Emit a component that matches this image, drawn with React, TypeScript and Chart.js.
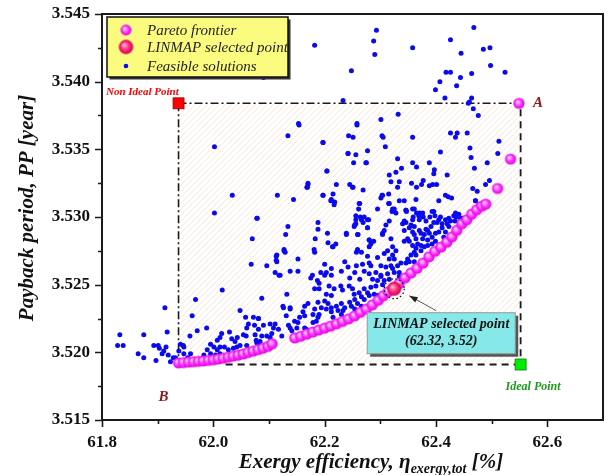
import React, { useEffect, useRef } from "react";
import { Chart, registerables } from "chart.js";

Chart.register(...registerables);

const FONT = "'Liberation Serif', 'Times New Roman', serif";

const xTicks = [61.8, 62.0, 62.2, 62.4, 62.6];
const yTicks = [3.515, 3.52, 3.525, 3.53, 3.535, 3.54, 3.545];
const xRange = [61.8, 62.7];
const yRange = [3.515, 3.545];

const seriesLabels = ["Pareto frontier", "LINMAP selected point", "Feasible solutions"];

const nonIdealPoint: [number, number] = [61.9375, 3.5384];
const idealPoint: [number, number] = [62.552, 3.5191];
const idealLineStartX = 62.018;
const linmapPoint: [number, number] = [62.325, 3.5247];
const linmapText = ["LINMAP selected point", "(62.32, 3.52)"];

const paretoPoints: [number, number][] = [
  [61.9375, 3.51922], [61.9464, 3.51924], [61.9554, 3.51928], [61.9643, 3.51931], [61.9732, 3.51934],
  [61.9821, 3.51936], [61.9911, 3.51941], [62.0, 3.51945], [62.0089, 3.51951], [62.0179, 3.51957],
  [62.0268, 3.51965], [62.0357, 3.51972], [62.0446, 3.51979], [62.0536, 3.51988], [62.0625, 3.51999],
  [62.0714, 3.52009], [62.0804, 3.5202], [62.0893, 3.52031], [62.0982, 3.52044], [62.1054, 3.52063],
  [62.1464, 3.52106], [62.1571, 3.52119], [62.1679, 3.52135], [62.1786, 3.5215], [62.1893, 3.52165],
  [62.2, 3.52179], [62.2107, 3.52194], [62.2214, 3.52211], [62.2321, 3.52229], [62.2429, 3.52247],
  [62.2536, 3.52269], [62.2643, 3.52296], [62.275, 3.5232], [62.2857, 3.52351], [62.2964, 3.52385],
  [62.3054, 3.52418], [62.3143, 3.52448], [62.325, 3.52477], [62.3339, 3.52508], [62.3446, 3.52551],
  [62.3554, 3.52587], [62.3661, 3.52621], [62.3768, 3.5266], [62.3875, 3.52706], [62.3982, 3.52746],
  [62.4089, 3.52778], [62.4196, 3.52814], [62.4286, 3.52854], [62.4375, 3.52902], [62.4464, 3.5295],
  [62.4554, 3.5298], [62.4643, 3.53021], [62.4732, 3.53054], [62.4821, 3.5308], [62.4893, 3.53095],
  [62.5107, 3.53211], [62.5339, 3.53428], [62.549, 3.5384],
];

const feasiblePoints: [number, number][] = [
  [62.293, 3.5438], [62.182, 3.5427], [62.288, 3.543], [62.29, 3.542], [62.358, 3.5425], [62.248, 3.5408],
  [62.09, 3.5403], [62.468, 3.544], [62.426, 3.5431], [62.445, 3.5421], [62.485, 3.5424], [62.497, 3.5425],
  [62.498, 3.5412], [62.524, 3.5407], [62.418, 3.5407], [62.426, 3.5407], [62.444, 3.5403], [62.464, 3.5406],
  [62.407, 3.54], [62.437, 3.5397], [62.399, 3.5394], [62.416, 3.5388], [62.464, 3.5388], [62.46, 3.5385],
  [62.458, 3.5384], [62.233, 3.5386], [62.467, 3.538], [62.476, 3.5375], [62.332, 3.5376], [62.301, 3.5372],
  [62.258, 3.5369], [62.153, 3.5369],
  [62.243, 3.536], [62.251, 3.5359], [62.305, 3.5359], [62.358, 3.5359], [62.197, 3.5355], [62.309, 3.5352],
  [62.277, 3.5349], [62.242, 3.5347], [62.256, 3.5346], [62.252, 3.534], [62.274, 3.534], [62.331, 3.5343],
  [62.358, 3.534], [62.365, 3.5337], [62.338, 3.5336], [62.388, 3.534], [62.397, 3.5335], [62.396, 3.5332],
  [62.204, 3.5334], [62.42, 3.5331], [62.426, 3.5362], [62.435, 3.5359], [62.438, 3.5362], [62.456, 3.5362],
  [62.408, 3.5348], [62.461, 3.5351], [62.463, 3.5344], [62.469, 3.5336], [62.492, 3.534], [62.513, 3.5356],
  [62.511, 3.5347], [62.496, 3.5327], [62.489, 3.5324], [62.466, 3.5321], [62.474, 3.5319], [62.221, 3.5324],
  [62.245, 3.5324], [62.251, 3.5322], [62.269, 3.532], [62.17, 3.5325], [62.168, 3.5322], [62.316, 3.5331],
  [62.328, 3.5333], [62.319, 3.5326], [62.334, 3.5326], [62.331, 3.5322], [62.356, 3.5325], [62.365, 3.5322],
  [62.377, 3.5327], [62.374, 3.5324], [62.388, 3.5323], [62.394, 3.5324], [62.401, 3.5324], [62.197, 3.5316],
  [62.215, 3.5317], [62.218, 3.5311], [62.212, 3.5313], [62.315, 3.5317], [62.301, 3.5314], [62.304, 3.5316],
  [62.334, 3.5312], [62.343, 3.5312], [62.364, 3.5313], [62.417, 3.5316], [62.422, 3.5315], [62.428, 3.5314],
  [62.405, 3.5312], [62.262, 3.531], [62.261, 3.5306], [62.295, 3.5306], [62.315, 3.531], [62.321, 3.5304],
  [62.328, 3.5303], [62.256, 3.5301], [62.271, 3.53], [62.277, 3.5298], [62.266, 3.5298], [62.256, 3.5295],
  [62.253, 3.5293], [62.239, 3.5288], [62.26, 3.5287], [62.277, 3.5292], [62.28, 3.5283], [62.304, 3.5288],
  [62.319, 3.5284], [62.346, 3.5305], [62.361, 3.5306], [62.365, 3.5303], [62.359, 3.53], [62.369, 3.5301],
  [62.377, 3.53], [62.396, 3.5304], [62.398, 3.5301], [62.346, 3.5296], [62.355, 3.5294], [62.361, 3.5293],
  [62.37, 3.529], [62.382, 3.5291], [62.391, 3.5293], [62.396, 3.5296], [62.402, 3.5296], [62.405, 3.5298],
  [62.417, 3.5298], [62.423, 3.5299], [62.432, 3.5301], [62.435, 3.5303], [62.441, 3.5302], [62.447, 3.5299],
  [62.471, 3.5312], [62.477, 3.5309], [62.316, 3.531], [62.322, 3.5306],
  [62.325, 3.5306], [62.347, 3.5304], [62.358, 3.5306], [62.37, 3.5303], [62.376, 3.5303], [62.393, 3.5304],
  [62.389, 3.53], [62.408, 3.53], [62.426, 3.5297], [62.436, 3.53], [62.444, 3.5299], [62.434, 3.5297],
  [62.42, 3.5295], [62.411, 3.5295], [62.382, 3.5297], [62.37, 3.5298], [62.358, 3.5298], [62.343, 3.5297],
  [62.34, 3.5295], [62.316, 3.5297], [62.31, 3.5294], [62.307, 3.529], [62.343, 3.529], [62.352, 3.5292],
  [62.358, 3.5289], [62.361, 3.5287], [62.373, 3.5288], [62.379, 3.5287], [62.385, 3.529], [62.388, 3.5288],
  [62.393, 3.5285], [62.399, 3.5288], [62.405, 3.5289], [62.411, 3.5292], [62.417, 3.5289], [62.423, 3.5293],
  [62.414, 3.5285], [62.385, 3.5283], [62.376, 3.5284], [62.364, 3.5284], [62.349, 3.5284], [62.343, 3.5282],
  [62.352, 3.5282], [62.358, 3.5279], [62.367, 3.528], [62.373, 3.5279], [62.379, 3.5278], [62.385, 3.5279],
  [62.393, 3.528], [62.399, 3.5282], [62.364, 3.5277], [62.373, 3.5275], [62.361, 3.5274], [62.355, 3.5272],
  [62.364, 3.5272], [62.349, 3.5269], [62.322, 3.5278], [62.328, 3.5275], [62.322, 3.5272], [62.316, 3.5269],
  [62.325, 3.5269], [62.313, 3.5275], [62.307, 3.5273], [62.301, 3.5264], [62.31, 3.5263], [62.319, 3.5264],
  [62.322, 3.5262], [62.331, 3.5264], [62.337, 3.5266], [62.346, 3.5266], [62.352, 3.5267], [62.361, 3.5267],
  [62.334, 3.5259], [62.325, 3.5259], [62.313, 3.5258], [62.316, 3.5254], [62.307, 3.5253], [62.301, 3.5256],
  [62.334, 3.5256], [62.304, 3.525],
  [62.114, 3.5272], [62.129, 3.5274], [62.182, 3.5274], [62.215, 3.5278], [62.257, 3.5274], [62.266, 3.5274],
  [62.28, 3.5278], [62.277, 3.5271], [62.295, 3.527], [62.152, 3.5269], [62.114, 3.5267], [62.096, 3.5264],
  [62.2, 3.5265], [62.236, 3.5267], [62.242, 3.5263], [62.257, 3.5264], [62.268, 3.5265], [62.28, 3.5266],
  [62.283, 3.5264], [62.212, 3.5262], [62.203, 3.5259], [62.23, 3.526], [62.254, 3.5259], [62.271, 3.526],
  [62.28, 3.5258], [62.292, 3.5259], [62.301, 3.5257], [62.138, 3.526], [62.152, 3.526], [62.111, 3.5259],
  [62.12, 3.5257], [62.175, 3.5255], [62.178, 3.5257], [62.193, 3.5259], [62.2, 3.5257], [62.212, 3.5257],
  [62.245, 3.5255], [62.263, 3.5254], [62.286, 3.5254], [62.295, 3.5253], [62.187, 3.5253], [62.19, 3.5251],
  [62.182, 3.5247], [62.19, 3.5247], [62.208, 3.5249], [62.217, 3.5247], [62.229, 3.5249], [62.232, 3.5246],
  [62.244, 3.5249], [62.25, 3.5247], [62.253, 3.5243], [62.262, 3.5244], [62.271, 3.5247], [62.277, 3.5244],
  [62.283, 3.5248], [62.292, 3.5249], [62.254, 3.5239], [62.266, 3.5241], [62.271, 3.5239], [62.28, 3.5242],
  [62.289, 3.5243], [62.295, 3.5242], [62.132, 3.5243], [62.087, 3.524], [62.203, 3.5243], [62.212, 3.5242],
  [62.2, 3.5238], [62.206, 3.5236], [62.188, 3.5237], [62.194, 3.5233], [62.203, 3.5232], [62.212, 3.5233],
  [62.221, 3.5234], [62.23, 3.5236], [62.236, 3.5233], [62.245, 3.5237], [62.248, 3.5234], [62.254, 3.5232],
  [62.259, 3.5236], [62.266, 3.5234], [62.138, 3.5233], [62.126, 3.5233], [62.164, 3.5234], [62.17, 3.5236],
  [62.161, 3.523], [62.164, 3.5227], [62.155, 3.5226], [62.146, 3.5223], [62.182, 3.5232], [62.179, 3.5228],
  [62.188, 3.5226], [62.19, 3.5228], [62.212, 3.523], [62.224, 3.5231], [62.215, 3.5226], [62.23, 3.5228],
  [62.233, 3.5231], [62.081, 3.5225], [62.09, 3.522], [62.102, 3.5221], [62.108, 3.5218], [62.111, 3.5221],
  [62.117, 3.5217], [62.138, 3.5218], [62.135, 3.522], [62.141, 3.5216], [62.15, 3.5218], [62.164, 3.5218],
  [62.167, 3.5217], [62.179, 3.5222], [62.185, 3.5223], [62.123, 3.5212], [62.105, 3.5214], [62.096, 3.5212],
  [62.102, 3.5211], [62.081, 3.5217], [62.075, 3.5213], [62.087, 3.5212], [62.084, 3.5208], [62.078, 3.5207],
  [62.154, 3.5368], [62.134, 3.536], [62.197, 3.5355], [62.258, 3.5368], [62.303, 3.536], [62.242, 3.5347],
  [62.275, 3.534], [62.204, 3.5334], [62.17, 3.5324], [62.169, 3.5322], [62.25, 3.5322], [62.115, 3.5316],
  [62.144, 3.5313], [62.197, 3.5316], [62.211, 3.5312], [62.217, 3.5309], [62.263, 3.531], [62.079, 3.5299],
  [62.256, 3.5298], [62.264, 3.53], [62.279, 3.5298], [62.269, 3.5296], [62.277, 3.5292], [62.188, 3.5296],
  [62.254, 3.5294], [62.134, 3.5293], [62.188, 3.5291], [62.13, 3.5287], [62.205, 3.5288], [62.239, 3.5287],
  [62.259, 3.5287], [62.183, 3.5284], [62.28, 3.5283], [62.288, 3.5282], [62.283, 3.528], [62.206, 3.5281],
  [62.214, 3.5278], [62.22, 3.528], [62.304, 3.5287], [62.127, 3.5276], [62.181, 3.5276], [62.259, 3.5276],
  [62.034, 3.5316], [62.002, 3.5303], [62.078, 3.5299], [62.07, 3.5284], [62.068, 3.5265], [62.016, 3.5246],
  [61.968, 3.5239], [61.913, 3.5233], [61.962, 3.5227], [62.048, 3.5231], [62.058, 3.5226], [62.072, 3.5226],
  [62.081, 3.5225], [62.06, 3.5218], [62.074, 3.522], [62.063, 3.5221], [62.054, 3.5213], [62.059, 3.5212],
  [61.988, 3.5218], [61.971, 3.5216], [61.958, 3.5212], [61.917, 3.5215], [61.875, 3.5213], [61.832, 3.5213],
  [61.828, 3.5205], [61.838, 3.5205], [61.865, 3.5199], [61.875, 3.5196], [61.897, 3.5194], [61.893, 3.5205],
  [61.901, 3.5205], [61.903, 3.5203], [61.908, 3.5199], [61.911, 3.5201], [61.915, 3.5204], [61.919, 3.5198],
  [61.923, 3.5193], [61.928, 3.5196], [61.941, 3.5206], [61.946, 3.5205], [61.938, 3.5201], [61.947, 3.5199],
  [61.959, 3.5199], [61.932, 3.5196], [61.954, 3.5196], [61.995, 3.5206], [62.007, 3.5209], [62.012, 3.5211],
  [62.015, 3.5214], [62.029, 3.5215], [62.033, 3.521], [62.039, 3.5208], [62.042, 3.5204], [62.043, 3.5211],
  [62.001, 3.5204], [62.007, 3.5202], [61.989, 3.5202], [61.995, 3.5199], [61.983, 3.5198], [62.012, 3.5204],
  [62.02, 3.5204], [62.027, 3.5202], [62.036, 3.5203], [62.048, 3.5205], [62.06, 3.5205], [62.077, 3.5209],
  [62.081, 3.5206], [62.012, 3.5199], [62.004, 3.5198], [61.947, 3.5204],
  [62.113, 3.5271], [62.127, 3.5275], [62.113, 3.5268], [62.118, 3.5257], [62.125, 3.5234], [62.131, 3.5227],
  [62.138, 3.5232], [62.152, 3.5222], [62.002, 3.5352], [62.471, 3.5312], [62.303, 3.5316], [62.346, 3.5305],
];

function makeBall(r: number, inner: string, mid: string, outer: string): HTMLCanvasElement {
  const s = Math.ceil(r * 2 + 2);
  const c = document.createElement("canvas");
  c.width = s;
  c.height = s;
  const g = c.getContext("2d")!;
  const cx = s / 2;
  const cy = s / 2;
  const grad = g.createRadialGradient(cx - r * 0.3, cy - r * 0.3, r * 0.05, cx, cy, r);
  grad.addColorStop(0, inner);
  grad.addColorStop(0.55, mid);
  grad.addColorStop(1, outer);
  g.fillStyle = grad;
  g.beginPath();
  g.arc(cx, cy, r, 0, Math.PI * 2);
  g.fill();
  return c;
}

export default function App() {
  const ref = useRef<HTMLCanvasElement>(null);

  useEffect(() => {
    if (!ref.current) return;
    Chart.defaults.font.family = FONT;
    const paretoBall = makeBall(5.6, "#ffe0ff", "#ff38ff", "#e000e0");
    const linmapBall = makeBall(7, "#ffc0d8", "#ff2a78", "#d0004c");
    const paretoLegendBall = makeBall(5.4, "#ffe0ff", "#ff38ff", "#e000e0");
    const linmapLegendBall = makeBall(7.2, "#ffc0d8", "#ff2a78", "#d0004c");

    const overlay = {
      id: "overlay",
      beforeDatasetsDraw(chart: any) {
        const { ctx, scales } = chart;
        const x = scales.x;
        const y = scales.y;
        const x0 = x.getPixelForValue(nonIdealPoint[0]);
        const y0 = y.getPixelForValue(nonIdealPoint[1]);
        const x1 = x.getPixelForValue(idealPoint[0]);
        const y1 = y.getPixelForValue(idealPoint[1]);
        // hatch
        ctx.save();
        ctx.beginPath();
        ctx.rect(x0, y0, x1 - x0, y1 - y0);
        ctx.clip();
        ctx.strokeStyle = "rgba(250,205,180,0.5)";
        ctx.lineWidth = 1;
        ctx.beginPath();
        const h = y1 - y0;
        for (let k = -h; k < x1 - x0; k += 6) {
          ctx.moveTo(x0 + k, y1);
          ctx.lineTo(x0 + k + h, y0);
        }
        ctx.stroke();
        ctx.restore();

        // dash-dot lines
        ctx.save();
        ctx.strokeStyle = "#1a1a1a";
        ctx.lineWidth = 1.6;
        ctx.setLineDash([8, 3, 2, 3]);
        const ax = x.getPixelForValue(paretoPoints[paretoPoints.length - 1][0]);
        ctx.beginPath();
        ctx.moveTo(x0, y0);
        ctx.lineTo(ax, y0);
        ctx.moveTo(x0, y0);
        ctx.lineTo(x0, y.getPixelForValue(paretoPoints[0][1]));
        ctx.stroke();
        // dashed lines
        ctx.setLineDash([7, 5]);
        ctx.lineWidth = 1.8;
        ctx.beginPath();
        ctx.moveTo(x1, y0 + 6);
        ctx.lineTo(x1, y1);
        ctx.moveTo(x1, y1);
        ctx.lineTo(x.getPixelForValue(idealLineStartX), y1);
        ctx.stroke();
        ctx.restore();
      },
      afterDatasetsDraw(chart: any) {
        const { ctx, scales, chartArea } = chart;
        const x = scales.x;
        const y = scales.y;
        const x0 = x.getPixelForValue(nonIdealPoint[0]);
        const y0 = y.getPixelForValue(nonIdealPoint[1]);
        const x1 = x.getPixelForValue(idealPoint[0]);
        const y1 = y.getPixelForValue(idealPoint[1]);
        ctx.save();
        // squares
        ctx.fillStyle = "#ff0000";
        ctx.strokeStyle = "#990000";
        ctx.lineWidth = 0.8;
        ctx.fillRect(x0 - 5.5, y0 - 5.5, 11, 11);
        ctx.strokeRect(x0 - 5.5, y0 - 5.5, 11, 11);
        ctx.fillStyle = "#00ee00";
        ctx.strokeStyle = "#117711";
        ctx.fillRect(x1 - 5.5, y1 - 5.5, 11, 11);
        ctx.strokeRect(x1 - 5.5, y1 - 5.5, 11, 11);

        // labels
        ctx.textBaseline = "middle";
        ctx.textAlign = "left";
        ctx.fillStyle = "#ff0000";
        ctx.font = `italic bold 11px ${FONT}`;
        ctx.fillText("Non Ideal Point", chartArea.left + 4, y0 - 11);
        ctx.fillStyle = "#1f9a1f";
        ctx.font = `italic bold 12px ${FONT}`;
        ctx.fillText("Ideal Point", x1 - 15, y1 + 22);
        ctx.fillStyle = "#8b1a1a";
        ctx.font = `italic bold 15px ${FONT}`;
        const apx = x.getPixelForValue(paretoPoints[paretoPoints.length - 1][0]);
        ctx.fillText("A", apx + 14, y0);
        ctx.fillText("B", x0 - 20, y1 + 33);

        // LINMAP annotation
        const lx = x.getPixelForValue(linmapPoint[0]);
        const ly = y.getPixelForValue(linmapPoint[1]);
        ctx.strokeStyle = "#000";
        ctx.lineWidth = 1.2;
        ctx.setLineDash([1.5, 2.5]);
        ctx.beginPath();
        ctx.arc(lx, ly, 10, 0, Math.PI * 2);
        ctx.stroke();
        ctx.setLineDash([]);
        // arrow
        const tx = lx + 42;
        const ty = ly + 22;
        const hx = lx + 15;
        const hy = ly + 7;
        ctx.strokeStyle = "#555";
        ctx.lineWidth = 1;
        ctx.beginPath();
        ctx.moveTo(tx, ty);
        ctx.lineTo(hx, hy);
        ctx.stroke();
        const ang = Math.atan2(hy - ty, hx - tx);
        ctx.fillStyle = "#222";
        ctx.beginPath();
        ctx.moveTo(hx, hy);
        ctx.lineTo(hx - 9 * Math.cos(ang - 0.35), hy - 9 * Math.sin(ang - 0.35));
        ctx.lineTo(hx - 9 * Math.cos(ang + 0.35), hy - 9 * Math.sin(ang + 0.35));
        ctx.closePath();
        ctx.fill();
        // box
        const bx = lx - 27;
        const by = ly + 24;
        const bw = 148;
        const bh = 41;
        ctx.fillStyle = "#555";
        ctx.fillRect(bx + 3, by + 3, bw, bh);
        ctx.fillStyle = "#86e8e8";
        ctx.fillRect(bx, by, bw, bh);
        ctx.strokeStyle = "#999";
        ctx.lineWidth = 1;
        ctx.strokeRect(bx, by, bw, bh);
        ctx.fillStyle = "#111";
        ctx.textAlign = "center";
        ctx.font = `italic bold 14px ${FONT}`;
        ctx.fillText(linmapText[0], bx + bw / 2, by + 12);
        ctx.fillText(linmapText[1], bx + bw / 2, by + 29);

        // legend
        const gx = chartArea.left + 5;
        const gy = chartArea.top + 3;
        const gw = 181;
        const gh = 60;
        ctx.fillStyle = "#333";
        ctx.fillRect(gx + 2.5, gy + 2.5, gw, gh);
        ctx.fillStyle = "#fbfb80";
        ctx.fillRect(gx, gy, gw, gh);
        ctx.strokeStyle = "#111";
        ctx.lineWidth = 1.5;
        ctx.strokeRect(gx, gy, gw, gh);
        const rows = [13, 30, 49];
        ctx.textAlign = "left";
        ctx.font = `italic 15px ${FONT}`;
        ctx.fillStyle = "#222";
        const icons = [paretoLegendBall, linmapLegendBall, null];
        seriesLabels.forEach((lab, i) => {
          const my = gy + rows[i];
          const mx = gx + 19;
          const ic = icons[i];
          if (ic) {
            ctx.drawImage(ic, mx - ic.width / 2, my - ic.height / 2);
          } else {
            ctx.fillStyle = "#0a0af5";
            ctx.beginPath();
            ctx.arc(mx, my, 2.3, 0, Math.PI * 2);
            ctx.fill();
            ctx.fillStyle = "#222";
          }
          ctx.fillText(lab, gx + 40, my + 1);
        });
        ctx.restore();
      },
      afterDraw(chart: any) {
        const { ctx, scales, chartArea } = chart;
        const x = scales.x;
        const y = scales.y;
        ctx.save();
        ctx.strokeStyle = "#1a1a1a";
        ctx.lineWidth = 2;
        ctx.strokeRect(chartArea.left, chartArea.top, chartArea.right - chartArea.left, chartArea.bottom - chartArea.top);
        ctx.lineWidth = 1.6;
        ctx.beginPath();
        yTicks.forEach((v, i) => {
          const p = Math.round(y.getPixelForValue(v)) + 0.5;
          ctx.moveTo(chartArea.left, p);
          ctx.lineTo(chartArea.left - 7, p);
          if (i < yTicks.length - 1) {
            const m = Math.round(y.getPixelForValue((v + yTicks[i + 1]) / 2)) + 0.5;
            ctx.moveTo(chartArea.left, m);
            ctx.lineTo(chartArea.left - 4, m);
          }
        });
        xTicks.forEach((v, i) => {
          const p = Math.round(x.getPixelForValue(v)) + 0.5;
          ctx.moveTo(p, chartArea.bottom);
          ctx.lineTo(p, chartArea.bottom + 7);
          const nv = i < xTicks.length - 1 ? xTicks[i + 1] : xRange[1] + 0.1;
          const mv = (v + nv) / 2;
          if (mv < xRange[1]) {
            const m = Math.round(x.getPixelForValue(mv)) + 0.5;
            ctx.moveTo(m, chartArea.bottom);
            ctx.lineTo(m, chartArea.bottom + 4);
          }
        });
        ctx.stroke();

        // x title with subscript
        ctx.fillStyle = "#111";
        ctx.textBaseline = "alphabetic";
        ctx.textAlign = "left";
        const big = `italic bold 21px ${FONT}`;
        const small = `italic bold 14px ${FONT}`;
        const parts: [string, string, number][] = [
          ["Exergy efficiency, ", big, 0],
          ["\u03B7", big, 0],
          ["exergy,tot", small, 5],
          [" [%]", big, 0],
        ];
        let total = 0;
        parts.forEach(([t, f]) => {
          ctx.font = f;
          total += ctx.measureText(t).width;
        });
        let cx = 371 - total / 2;
        const base = 468;
        parts.forEach(([t, f, dy]) => {
          ctx.font = f;
          ctx.fillText(t, cx, base + dy);
          cx += ctx.measureText(t).width;
        });

        // y title
        ctx.translate(28, 208);
        ctx.rotate(-Math.PI / 2);
        ctx.textAlign = "center";
        ctx.textBaseline = "middle";
        ctx.font = big;
        ctx.fillText("Payback period, PP [year]", 0, 0);
        ctx.restore();
      },
    };

    const chart = new Chart(ref.current, {
      type: "scatter",
      data: {
        datasets: [
          {
            label: seriesLabels[1],
            data: [{ x: linmapPoint[0], y: linmapPoint[1] }],
            pointStyle: linmapBall as any,
          },
          {
            label: seriesLabels[0],
            data: paretoPoints.map(([px, py]) => ({ x: px, y: py })),
            pointStyle: paretoBall as any,
          },
          {
            label: seriesLabels[2],
            data: feasiblePoints.map(([px, py]) => ({ x: px, y: py })),
            pointStyle: "circle",
            pointRadius: 2.5,
            backgroundColor: "#0a0af0",
            borderWidth: 0,
          },
        ],
      },
      options: {
        responsive: false,
        animation: false,
        layout: { padding: { left: 0, right: 3, top: 14, bottom: 0 } },
        plugins: { legend: { display: false }, tooltip: { enabled: false } },
        scales: {
          x: {
            type: "linear",
            min: xRange[0],
            max: xRange[1],
            grid: { display: false, drawTicks: false },
            border: { display: false },
            title: { display: false },
            afterBuildTicks: (s: any) => {
              s.ticks = xTicks.map((v) => ({ value: v }));
            },
            afterFit: (s: any) => {
              s.height = 55;
              s.paddingLeft = 0;
              s.paddingRight = 0;
            },
            ticks: {
              autoSkip: false,
              maxRotation: 0,
              padding: 12,
              color: "#111",
              font: { size: 17, weight: "bold", family: FONT },
              callback: (v: any) => Number(v).toFixed(1),
            },
          },
          y: {
            type: "linear",
            min: yRange[0],
            max: yRange[1],
            grid: { display: false, drawTicks: false },
            border: { display: false },
            title: { display: false },
            afterBuildTicks: (s: any) => {
              s.ticks = yTicks.map((v) => ({ value: v }));
            },
            afterFit: (s: any) => {
              s.width = 102;
              s.paddingTop = 0;
              s.paddingBottom = 0;
            },
            ticks: {
              autoSkip: false,
              padding: 12,
              color: "#111",
              font: { size: 17, weight: "bold", family: FONT },
              callback: (v: any) => Number(v).toFixed(3),
            },
          },
        },
      },
      plugins: [overlay],
    });
    return () => chart.destroy();
  }, []);

  return (
    <div style={{ position: "fixed", left: 0, top: 0, width: 608, height: 475, background: "#fff" }}>
      <canvas ref={ref} width={608} height={475} style={{ display: "block" }} />
    </div>
  );
}
